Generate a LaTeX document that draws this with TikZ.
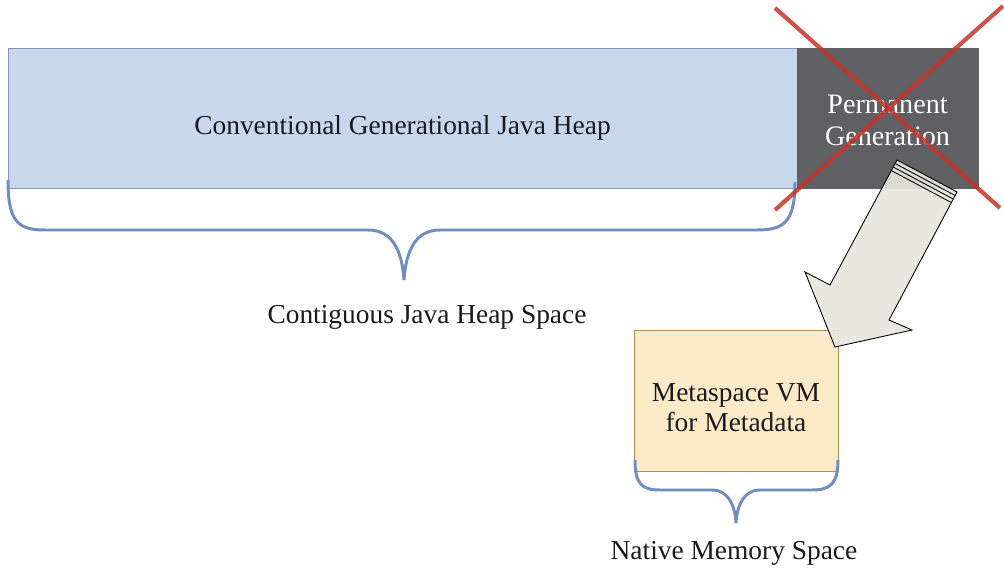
\documentclass[tikz,border=0pt]{standalone}
\usepackage{fontspec}
\setmainfont{Liberation Serif}
\usetikzlibrary{calc}
\definecolor{heapblue}{RGB}{201,215,236}
\definecolor{heapedge}{RGB}{130,150,185}
\definecolor{permgray}{RGB}{96,96,100}
\definecolor{metafill}{RGB}{253,234,200}
\definecolor{metaedge}{RGB}{180,140,80}
\definecolor{bracecol}{RGB}{112,142,190}
\definecolor{crossred}{RGB}{196,52,42}
\definecolor{arrowfill}{RGB}{230,230,220}
\definecolor{txt}{RGB}{25,25,30}

\begin{document}
\begin{tikzpicture}[x=0.02cm,y=-0.02cm,every node/.style={outer sep=0pt, font=\fontsize{15.6}{17}\selectfont, text=txt}]

\useasboundingbox (0,0) rectangle (1004,577);

% memory blocks
\node[fill=heapblue,draw=heapedge,minimum width=15.78cm,minimum height=2.8cm,text height=19pt,text depth=0pt] (heap) at (402.5,118) {Conventional Generational Java Heap};
\node[fill=permgray,draw=permgray,minimum width=3.62cm,minimum height=2.8cm,text=white,align=center,font=\fontsize{16}{18}\selectfont,text height=31.5pt] (permgen) at (887.5,118) {Permanent\\Generation};
\node[fill=metafill,draw=metaedge,minimum width=4.08cm,minimum height=2.82cm,align=center,text height=35pt] (metaspace) at (736,400.5) {Metaspace VM\\for Metadata};

% braces
\draw[bracecol,line width=1.7pt] (8,180) .. controls (8,222) and (18,230) .. (45,230) -- (368,230)
  .. controls (392,230) and (402,250) .. (404,280) .. controls (406,250) and (416,230) .. (440,230)
  -- (757,230) .. controls (784,230) and (795,222) .. (795,182);
\draw[bracecol,line width=1.7pt] (635,460) .. controls (635,484) and (642,490) .. (660,490) -- (712,490)
  .. controls (728,490) and (735,505) .. (736,523) .. controls (737,505) and (744,490) .. (760,490)
  -- (812,490) .. controls (830,490) and (838,484) .. (838,460);

\node (heaplabel) at (427,317) {Contiguous Java Heap Space};
\node (nativelabel) at (734,553) {Native Memory Space};

% block arrow
\draw[fill=arrowfill,fill opacity=0.92,draw=black,line width=0.5pt,line join=miter]
  (897,160) -- (957,192) -- (889,320) -- (912,330) -- (835,347) -- (805,272) -- (830,285) -- cycle;
\foreach \o in {4,8,12}
  \draw[black,line width=0.5pt] ($(897,160)+(-0.47*\o,0.88*\o)$) -- ($(957,192)+(-0.47*\o,0.88*\o)$);

% cross
\draw[crossred,opacity=0.85,line width=2.4pt] (775,8) -- (1000,208);
\draw[crossred,opacity=0.85,line width=2.4pt] (1003,6) -- (775,210);
\end{tikzpicture}
\end{document}
